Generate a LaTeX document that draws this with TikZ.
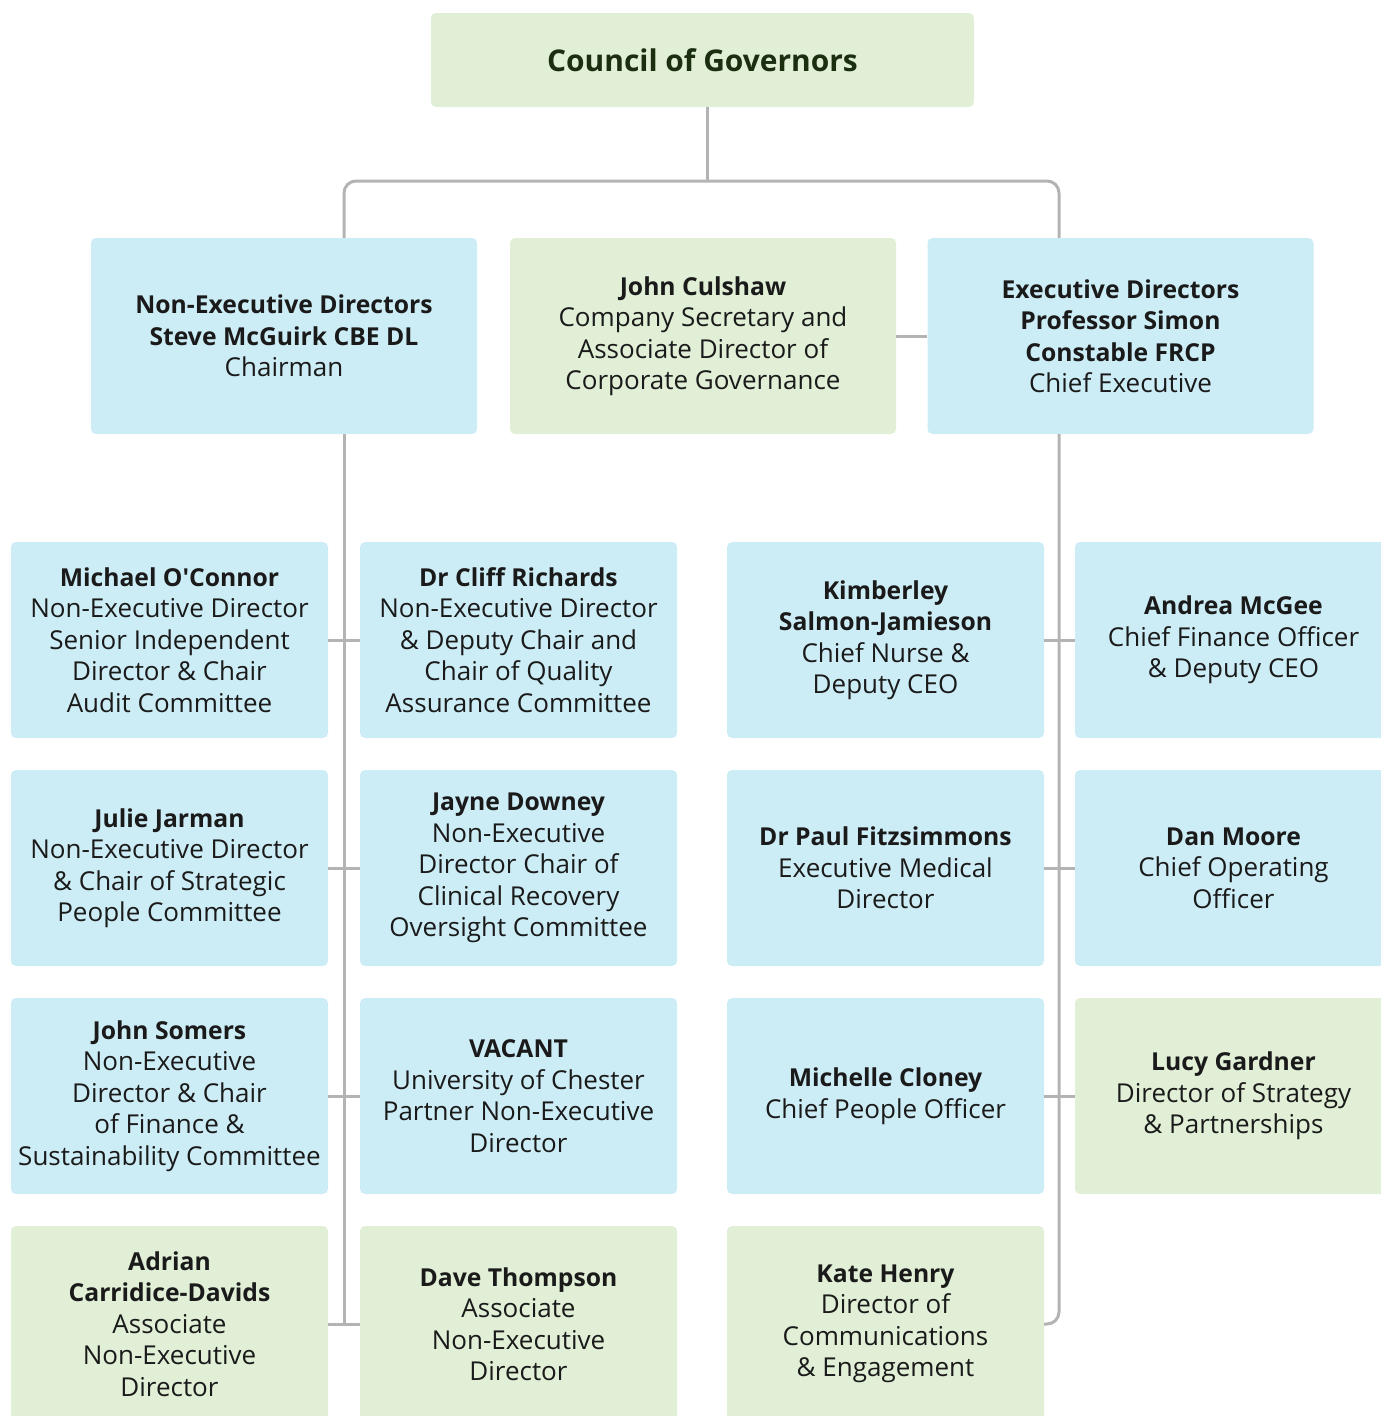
\documentclass[tikz,border=0pt]{standalone}
\usepackage{fontspec}
\setmainfont{Open Sans}[BoldFeatures={Scale=0.95}]
\usepackage{xcolor}
\usepackage{tikz}
\usetikzlibrary{positioning,calc}
\definecolor{boxblue}{HTML}{CDEDF6}
\definecolor{boxgreen}{HTML}{E0EFD6}
\definecolor{linkgray}{HTML}{B3B3B3}
\definecolor{titlegreen}{HTML}{1C2E10}
\definecolor{bodytext}{HTML}{1A1A1A}
\tikzset{
  orgbox/.style={rounded corners=5pt, inner sep=2pt, align=center,
    minimum width=317pt, minimum height=196pt, text=bodytext,
    font=\fontsize{26}{31.5}\selectfont},
  bluebox/.style={orgbox, fill=boxblue},
  greenbox/.style={orgbox, fill=boxgreen},
  topbox/.style={minimum width=386pt},
  link/.style={draw=linkgray, line width=3pt}
}

\begin{document}
\begin{tikzpicture}[x=1pt,y=-1pt]
  \useasboundingbox (0,0) rectangle (1381,1416);
  \clip (0,0) rectangle (1381,1416);

  % council
  \node[greenbox, minimum width=543pt, minimum height=94pt,
        text=titlegreen, font=\fontsize{31.5}{38}\selectfont\bfseries]
        (council) at (702.5,60) {Council of Governors};

  % directors row
  \node[bluebox, topbox] (nedir) at (284,336)
    {\textbf{Non-Executive Directors}\\\textbf{Steve McGuirk CBE DL}\\Chairman};
  \node[greenbox, topbox] (culshaw) at (703,336)
    {\textbf{John Culshaw}\\Company Secretary and\\Associate Director of\\Corporate Governance};
  \node[bluebox, topbox] (exdir) at (1120.5,336)
    {\textbf{Executive Directors}\\\textbf{Professor Simon}\\\textbf{Constable FRCP}\\Chief Executive};

  % non-executive side
  \node[bluebox] (oconnor) at (169.5,640)
    {\textbf{Michael O\textquotesingle Connor}\\Non-Executive Director\\Senior Independent\\Director \& Chair\\Audit Committee};
  \node[bluebox] (richards) at (518.5,640)
    {\textbf{Dr Cliff Richards}\\Non-Executive Director\\\& Deputy Chair and\\Chair of Quality\\Assurance Committee};
  \node[bluebox] (jarman) at (169.5,868)
    {\textbf{Julie Jarman}\\Non-Executive Director\\\& Chair of Strategic\\People Committee};
  \node[bluebox] (downey) at (518.5,868)
    {\textbf{Jayne Downey}\\Non-Executive\\Director Chair of\\Clinical Recovery\\Oversight Committee};
  \node[bluebox] (somers) at (169.5,1096)
    {\textbf{John Somers}\\Non-Executive\\Director \& Chair\\of Finance \&\\Sustainability Committee};
  \node[bluebox] (vacant) at (518.5,1096)
    {\textbf{VACANT}\\University of Chester\\Partner Non-Executive\\Director};
  \node[greenbox] (carridice) at (169.5,1324)
    {\textbf{Adrian}\\\textbf{Carridice-Davids}\\Associate\\Non-Executive\\Director};
  \node[greenbox] (thompson) at (518.5,1324)
    {\textbf{Dave Thompson}\\Associate\\Non-Executive\\Director};

  % executive side
  \node[bluebox] (jamieson) at (885.5,640)
    {\textbf{Kimberley}\\\textbf{Salmon-Jamieson}\\Chief Nurse \&\\Deputy CEO};
  \node[bluebox] (mcgee) at (1233.5,640)
    {\textbf{Andrea McGee}\\Chief Finance Officer\\\& Deputy CEO};
  \node[bluebox] (fitzsimmons) at (885.5,868)
    {\textbf{Dr Paul Fitzsimmons}\\Executive Medical\\Director};
  \node[bluebox] (moore) at (1233.5,868)
    {\textbf{Dan Moore}\\Chief Operating\\Officer};
  \node[bluebox] (cloney) at (885.5,1096)
    {\textbf{Michelle Cloney}\\Chief People Officer};
  \node[greenbox] (gardner) at (1233.5,1096)
    {\textbf{Lucy Gardner}\\Director of Strategy\\\& Partnerships};
  \node[greenbox] (henry) at (885.5,1324)
    {\textbf{Kate Henry}\\Director of\\Communications\\\& Engagement};

  % connectors
  \coordinate (lsplit) at (344,181);
  \coordinate (rsplit) at (1059,181);
  \draw[link] (council.south -| 707,0) -- (707,181);
  \draw[link, rounded corners=12pt] (lsplit |- nedir.north) -- (lsplit) -- (rsplit) -- (rsplit |- exdir.north);
  \draw[link] (culshaw.east) -- (exdir.west);

  \draw[link] (lsplit |- nedir.south) -- (lsplit |- carridice);
  \foreach \a/\b in {oconnor/richards, jarman/downey, somers/vacant, carridice/thompson}
    \draw[link] (\a.east) -- (\b.west);

  \draw[link, rounded corners=12pt] (rsplit |- exdir.south) -- (rsplit |- henry) -- (henry.east);
  \foreach \a/\b in {jamieson/mcgee, fitzsimmons/moore, cloney/gardner}
    \draw[link] (\a.east) -- (\b.west);
\end{tikzpicture}
\end{document}
